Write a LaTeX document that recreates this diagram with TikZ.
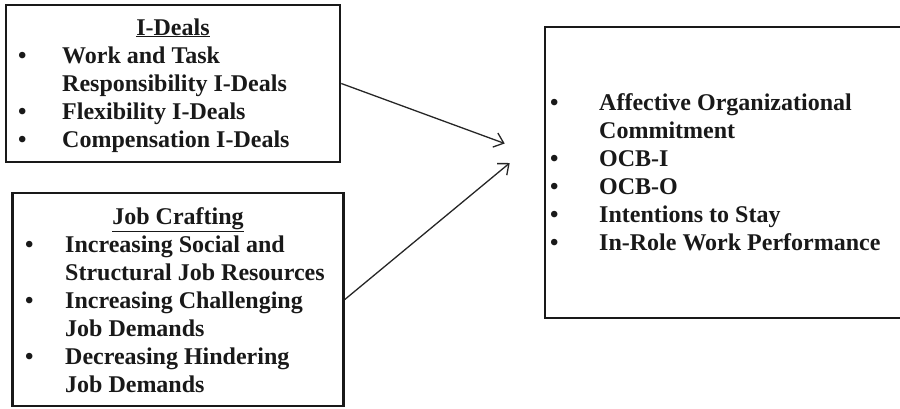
\documentclass[tikz,border=0pt]{standalone}
\usepackage{fontspec}
\setmainfont{Liberation Serif}
\usepackage{tikz}
\usetikzlibrary{arrows.meta,positioning,calc}

\newcommand{\bul}{\textbullet}

\begin{document}
\begin{tikzpicture}[x=1pt,y=-1pt,
    framebox/.style={draw=black!90, line width=2.6pt, inner sep=0pt},
    listtext/.style={font=\fontsize{24}{28}\selectfont\bfseries, text=black!90, inner sep=0pt, anchor=base west},
    titletext/.style={font=\fontsize{24}{28}\selectfont\bfseries, text=black!90, inner sep=0pt, anchor=base},
    link/.style={-{Straight Barb[length=9pt,width=15pt,line width=1.3pt]}, line width=1.3pt, draw=black!85}]
    \useasboundingbox (0,0) rectangle (900,408);

    % Boxes
    \node[framebox, minimum width=334pt, minimum height=157pt] (ideals) at (173,83.5) {};
    \node[framebox, minimum width=331pt, minimum height=213pt] (crafting) at (178,299.5) {};
    \node[framebox, minimum width=362pt, minimum height=291pt] (outcomes) at (726,172.5) {};

    % I-Deals
    \node[titletext] (ideals-title) at (173,35) {\underline{I-Deals}};
    \node[listtext] (ideals-list) at (18,63) {\begin{tabular}[t]{@{}p{44pt}@{}l@{}}
        \bul & Work and Task\\
             & Responsibility I-Deals\\
        \bul & Flexibility I-Deals\\
        \bul & Compensation I-Deals
    \end{tabular}};

    % Job crafting
    \node[titletext] (crafting-title) at (178,224) {\underline{Job Crafting}};
    \node[listtext] (crafting-list) at (25,252) {\begin{tabular}[t]{@{}p{40pt}@{}l@{}}
        \bul & Increasing Social and\\
             & Structural Job Resources\\
        \bul & Increasing Challenging\\
             & Job Demands\\
        \bul & Decreasing Hindering\\
             & Job Demands
    \end{tabular}};

    % Outcomes
    \node[listtext] (outcomes-list) at (550,110) {\begin{tabular}[t]{@{}p{49pt}@{}l@{}}
        \bul & Affective Organizational\\
             & Commitment\\
        \bul & OCB-I\\
        \bul & OCB-O\\
        \bul & Intentions to Stay\\
        \bul & In-Role Work Performance
    \end{tabular}};

    % Arrows
    \coordinate (tip1) at ($(outcomes.west)+(-39,-29)$);
    \coordinate (tip2) at ($(outcomes.west)+(-34,-9.5)$);
    \draw[link] (ideals.east) -- (tip1);
    \draw[link] (crafting.east) -- (tip2);
\end{tikzpicture}
\end{document}
